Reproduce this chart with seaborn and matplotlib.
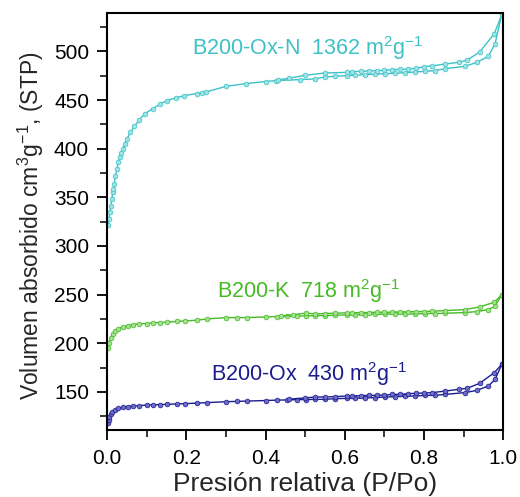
import numpy as np
import pandas as pd
import matplotlib
matplotlib.use("Agg")
import matplotlib.pyplot as plt
from matplotlib.ticker import MultipleLocator, FormatStrFormatter
import seaborn as sns

# B200-Ox-N (cyan)
oxn_ads_p = [0.003, 0.005, 0.007, 0.009, 0.012, 0.014, 0.016, 0.018, 0.021, 0.025,
             0.028, 0.032, 0.035, 0.040, 0.045, 0.050, 0.059, 0.069, 0.080, 0.095,
             0.115, 0.134, 0.152, 0.175, 0.195, 0.226, 0.240, 0.250, 0.300, 0.350,
             0.400, 0.426, 0.487, 0.524, 0.550, 0.575, 0.605, 0.625, 0.651, 0.676,
             0.701, 0.727, 0.752, 0.777, 0.802, 0.828, 0.853, 0.903, 0.933, 0.962,
             0.979, 0.996]
oxn_ads_v = [322, 327.6, 335, 341, 348, 355, 359, 364, 372, 379,
             386, 391, 396, 400, 405, 410, 417, 423, 429, 436,
             441, 446, 449.5, 452.5, 454.5, 456.7, 457.7, 458.4, 464, 466.9,
             469, 470, 471, 471.6, 473.7, 474.4, 475.1, 475.4, 476.1, 476.4,
             477.1, 477.4, 478.1, 478.8, 479.5, 480.2, 482.3, 484.6, 488.7, 494.9,
             507.9, 537.9]
oxn_des_p = [0.996, 0.977, 0.940, 0.908, 0.887, 0.853, 0.820, 0.800, 0.780, 0.760,
             0.740, 0.720, 0.700, 0.680, 0.660, 0.640, 0.618, 0.605, 0.550, 0.499,
             0.460, 0.430]
oxn_des_v = [538, 518, 499.3, 490.8, 488.7, 487, 485, 484.3, 482.6, 481.9,
             481.5, 481.2, 480.5, 480.2, 479.8, 479.5, 479.1, 478.4, 477.8, 475.4,
             472.5, 470.5]

# B200-K (green)
k_ads_p = [0.0025, 0.005, 0.0086, 0.0136, 0.019, 0.028, 0.039, 0.053, 0.066, 0.081,
           0.100, 0.116, 0.133, 0.150, 0.177, 0.196, 0.226, 0.251, 0.300, 0.327,
           0.352, 0.400, 0.428, 0.453, 0.478, 0.503, 0.524, 0.550, 0.575, 0.605,
           0.625, 0.651, 0.676, 0.701, 0.727, 0.752, 0.777, 0.802, 0.828, 0.853,
           0.903, 0.933, 0.962, 0.979, 0.996]
k_ads_v = [194.7, 200.5, 205.6, 209.7, 212.4, 214.8, 216.9, 218.2, 219.3, 220,
           220.3, 221, 221.3, 221.6, 222.6, 223, 223.7, 225, 226.4, 226.4,
           226.4, 227.1, 227.5, 227.8, 228.0, 228.2, 228.4, 228.5, 228.8, 229.2,
           229.2, 229.5, 229.9, 229.9, 230.2, 230.2, 230.2, 230.6, 230.6, 230.9,
           231.6, 232.6, 234.6, 238.1, 250]
k_des_p = [0.996, 0.977, 0.940, 0.903, 0.853, 0.820, 0.800, 0.780, 0.760, 0.740,
           0.720, 0.700, 0.680, 0.660, 0.640, 0.618, 0.605, 0.575, 0.550, 0.524,
           0.503, 0.470, 0.440]
k_des_v = [250, 242.1, 237.4, 234.6, 233.6, 233.0, 232.6, 232.6, 232.3, 232.3,
           231.9, 231.9, 231.9, 231.6, 231.6, 231.3, 231.3, 230.9, 230.6, 230.2,
           231.1, 229.3, 228.0]

# B200-Ox (navy)
ox_ads_p = [0.0025, 0.004, 0.006, 0.009, 0.013, 0.019, 0.028, 0.039, 0.053, 0.066,
            0.081, 0.100, 0.116, 0.133, 0.150, 0.177, 0.196, 0.226, 0.251, 0.300,
            0.327, 0.352, 0.400, 0.428, 0.453, 0.478, 0.503, 0.524, 0.550, 0.575,
            0.605, 0.625, 0.651, 0.676, 0.701, 0.727, 0.752, 0.777, 0.802, 0.828,
            0.853, 0.903, 0.933, 0.962, 0.979, 0.996]
ox_ads_v = [118, 121, 124, 127, 129.5, 131.5, 133, 134.2, 135, 135.5,
            136, 136.4, 136.8, 137, 137.3, 137.7, 138, 138.5, 139, 140,
            140.3, 140.6, 141.2, 141.6, 141.8, 142.1, 142.2, 142.4, 142.4, 143.1,
            143.4, 143.4, 144.1, 144.1, 144.8, 145.2, 145.5, 145.8, 146.5, 146.5,
            147.5, 149.3, 151.6, 156.1, 162.9, 178.3]
ox_des_p = [0.996, 0.977, 0.940, 0.908, 0.887, 0.853, 0.820, 0.800, 0.780, 0.760,
            0.740, 0.720, 0.700, 0.680, 0.660, 0.640, 0.618, 0.605, 0.575, 0.550,
            0.524, 0.499, 0.460]
ox_des_v = [178.3, 169.8, 158.8, 153.7, 152.7, 150.9, 149.3, 148.9, 148.6, 148.2,
            147.5, 147.5, 146.8, 146.5, 146.5, 146.2, 145.8, 145.8, 145.2, 144.8,
            144.8, 143.8, 142.6]

sns.set_style("ticks")
plt.rcParams["font.family"] = ["Liberation Sans", "DejaVu Sans"]
plt.rcParams["mathtext.fontset"] = "custom"
plt.rcParams["mathtext.rm"] = "Liberation Sans"
plt.rcParams["mathtext.it"] = "Liberation Sans"

fig = plt.figure(figsize=(5.2, 4.97), dpi=100)
ax = fig.add_axes([0.206, 0.135, 0.762, 0.838])

series = [
    (oxn_ads_p, oxn_ads_v, oxn_des_p, oxn_des_v, "#3EC1C6", "#9BE3E6"),
    (k_ads_p, k_ads_v, k_des_p, k_des_v, "#45BB25", "#A3E08F"),
    (ox_ads_p, ox_ads_v, ox_des_p, ox_des_v, "#1C1C8F", "#6C6CC8"),
]
for ap, av, dp, dv, col, light in series:
    for px, vy in [(ap, av), (dp, dv)]:
        sns.lineplot(x=px, y=vy, ax=ax, sort=False, estimator=None, color=col,
                     linewidth=1.0, marker="o", markersize=3.4,
                     markerfacecolor=light, markeredgecolor=col, markeredgewidth=0.5)

ax.text(0.213, 496, "B200-Ox-N  1362 m$^2$g$^{-1}$", color="#3EC1C6", fontsize=15.5)
ax.text(0.278, 247, "B200-K  718 m$^2$g$^{-1}$", color="#45BB25", fontsize=15.5)
ax.text(0.262, 161, "B200-Ox  430 m$^2$g$^{-1}$", color="#1C1C8F", fontsize=15.5)

ax.set_xlim(0, 1.0)
ax.set_ylim(111, 539)
ax.xaxis.set_major_locator(MultipleLocator(0.2))
ax.xaxis.set_minor_locator(MultipleLocator(0.1))
ax.yaxis.set_major_locator(MultipleLocator(50))
ax.yaxis.set_minor_locator(MultipleLocator(25))
ax.set_yticks(np.arange(150, 501, 50))
ax.xaxis.set_major_formatter(FormatStrFormatter("%.1f"))
ax.tick_params(which="major", length=7, width=1.3, labelsize=15, direction="out",
               top=False, right=False, colors="black")
ax.tick_params(axis="x", which="major", pad=7)
ax.tick_params(axis="y", which="major", pad=6)
ax.tick_params(which="minor", length=5, width=1.3, top=False, right=False)
for sp in ax.spines.values():
    sp.set_linewidth(1.5)
    sp.set_color("black")

ax.set_xlabel("Presión relativa (P/Po)", fontsize=19)
ax.set_ylabel("Volumen absorbido cm$^3$g$^{-1}$, (STP)", fontsize=16.5)
ax.xaxis.set_label_coords(0.5, -0.1)
ax.yaxis.set_label_coords(-0.155, 0.49)

fig.savefig("out.png", dpi=100)
